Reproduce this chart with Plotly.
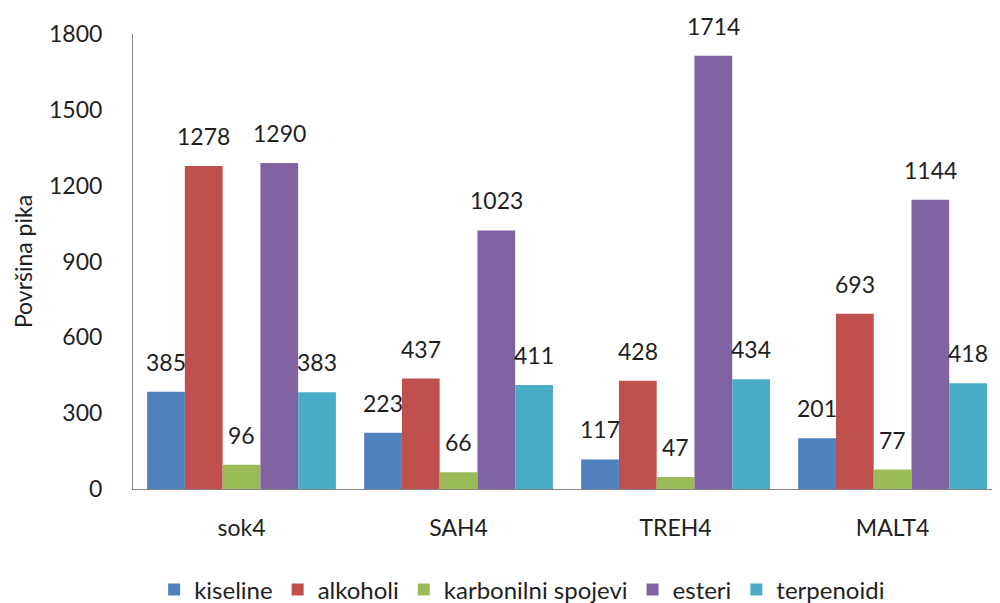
import plotly.graph_objects as go

categories = ["sok4", "SAH4", "TREH4", "MALT4"]
series_names = ["kiseline", "alkoholi", "karbonilni spojevi", "esteri", "terpenoidi"]
kiseline = [385, 223, 117, 201]
alkoholi = [1278, 437, 428, 693]
karbonilni = [96, 66, 47, 77]
esteri = [1290, 1023, 1714, 1144]
terpenoidi = [383, 411, 434, 418]
y_ticks = [0, 300, 600, 900, 1200, 1500, 1800]

series_values = [kiseline, alkoholi, karbonilni, esteri, terpenoidi]
colors = ["#4F81BD", "#C0504D", "#9BBB59", "#8064A2", "#4BACC6"]

FONT = "Lato"
TXT = "#1f1f1f"
bargap = 0.13
n = len(series_names)
x_idx = list(range(len(categories)))

fig = go.Figure()
annotations = []
w = (1 - bargap) / n
for i, (name, vals, col) in enumerate(zip(series_names, series_values, colors)):
    fig.add_trace(go.Bar(x=x_idx, y=vals, name=name, marker_color=col,
                         marker_line_width=0))
    off = -(1 - bargap) / 2 + w * (i + 0.5)
    for j, v in enumerate(vals):
        annotations.append(dict(x=j + off, y=v, xref="x", yref="y", text=str(v),
                                showarrow=False, yanchor="middle", yshift=30,
                                font=dict(family=FONT, size=23, color=TXT)))

# page body has an 8px margin, so the figure is drawn 8px right/down
fig.update_layout(
    width=984, height=595,
    barmode="group", bargap=bargap, bargroupgap=0,
    plot_bgcolor="white", paper_bgcolor="white",
    margin=dict(l=125, r=0, t=26, b=114, autoexpand=False),
    font=dict(family=FONT, size=22, color=TXT),
    showlegend=True,
    legend=dict(orientation="h", x=0.453, xanchor="center", y=-0.222, yanchor="middle",
                font=dict(family=FONT, size=24, color=TXT), itemwidth=30,
                traceorder="normal"),
    annotations=annotations,
)
fig.update_xaxes(range=[-0.5, 3.458], tickvals=x_idx, ticktext=categories,
                 showline=True, linecolor="#868686", linewidth=1, ticks="",
                 showgrid=False, zeroline=False, ticklabelstandoff=18, automargin=False,
                 tickfont=dict(family=FONT, size=23, color=TXT))
fig.update_yaxes(range=[0, 1800], tickvals=y_ticks, showline=True, linecolor="#868686",
                 linewidth=1, ticks="", showgrid=False, zeroline=False,
                 ticklabelstandoff=25, automargin=False,
                 tickfont=dict(family=FONT, size=23, color=TXT),
                 title=dict(text="Površina pika", font=dict(family=FONT, size=23, color=TXT),
                            standoff=9))
fig.write_html("out.html")
